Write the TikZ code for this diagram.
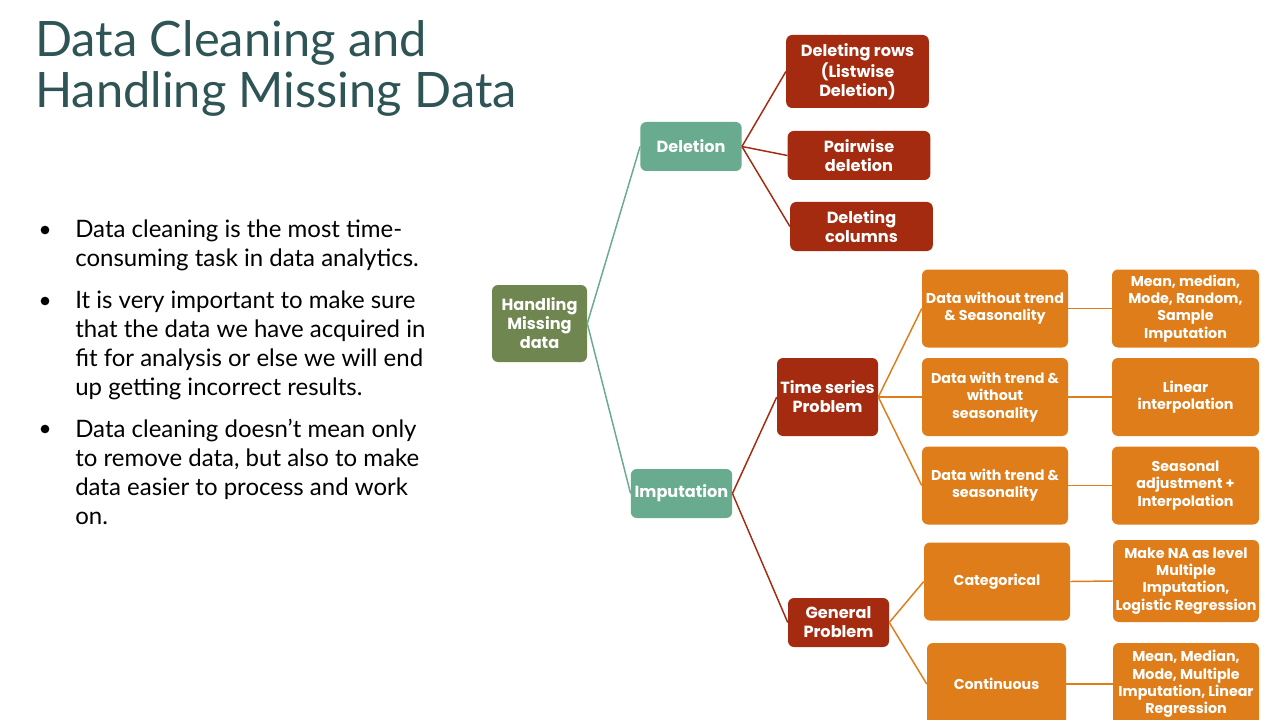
\documentclass[tikz,border=0pt]{standalone}
\usepackage{fontspec}
\setmainfont{Lato}
\newfontfamily\boxfont{Poppins}
\usepackage{tikz}
\usetikzlibrary{positioning}

\definecolor{titleteal}{RGB}{47,84,86}
\definecolor{rootgreen}{RGB}{112,134,80}
\definecolor{midteal}{RGB}{104,171,142}
\definecolor{brick}{RGB}{165,43,16}
\definecolor{amber}{RGB}{223,125,26}

\begin{document}
\begin{tikzpicture}[
    x=0.75pt, y=-0.75pt,
    box/.style={rectangle, rounded corners=4.5pt, text=white, align=center, inner sep=1pt,
      font=\boxfont\bfseries\fontsize{12.1}{14.25}\selectfont},
    rootbox/.style={box, fill=rootgreen, minimum width=71.25pt, minimum height=57.75pt},
    midbox/.style={box, fill=midteal, minimum width=76pt, minimum height=36.75pt},
    brickbox/.style={box, fill=brick, minimum width=107pt, minimum height=36.75pt},
    leafbox/.style={box, fill=amber, minimum width=109.5pt, minimum height=58.5pt,
      font=\boxfont\bfseries\fontsize{10.7}{13}\selectfont},
    tealline/.style={draw=midteal, line width=1.1pt},
    brickline/.style={draw=brick, line width=1.1pt},
    amberline/.style={draw=amber, line width=1.1pt},
    titletext/.style={anchor=base west, inner sep=0, text=titleteal, font=\fontsize{36.6}{38}\selectfont},
    bullettext/.style={anchor=north west, inner sep=0, align=left, font=\fontsize{18}{21.75}\selectfont},
    dotmark/.style={circle, fill=black, minimum size=6.5pt, inner sep=0}
  ]
    \useasboundingbox (0,0) rectangle (1280,720);
    \fill[white] (0,0) rectangle (1280,720);
    \clip (0,0) rectangle (1280,720);
    % title and bullets
    \node[titletext] (title1) at (35,57) {Data Cleaning and};
    \node[titletext] (title2) at (35,108) {Handling Missing Data};
    \node[dotmark] (dot1) at (45,230) {};
    \node[dotmark] (dot2) at (45,301) {};
    \node[dotmark] (dot3) at (45,429) {};
    \node[bullettext] (txt1) at (75,219.7) {Data cleaning is the most time-\\consuming task in data analytics.};
    \node[bullettext] (txt2) at (75,290.7) {It is very important to make sure\\that the data we have acquired in\\fit for analysis or else we will end\\up getting incorrect results.};
    \node[bullettext] (txt3) at (75,418.7) {Data cleaning doesn’t mean only\\to remove data, but also to make\\data easier to process and work\\on.};
    % tree
    \node[rootbox] (hmd) at (539.5,323.5) {Handling\\Missing\\data};
    \node[midbox] (del) at (691,146.5) {Deletion};
    \node[midbox] (imp) at (681.5,493.5) {Imputation};
    \node[brickbox, minimum height=54.75pt] (drow) at (857.5,71.5) {Deleting rows\\(Listwise\\Deletion)};
    \node[brickbox] (dpair) at (859,155.5) {Pairwise\\deletion};
    \node[brickbox] (dcol) at (861.5,226.5) {Deleting\\columns};
    \node[brickbox, minimum width=75.75pt, minimum height=58.5pt] (tsp) at (827.5,397) {Time series\\Problem};
    \node[brickbox, minimum width=75.75pt] (gp) at (838.5,622.5) {General\\Problem};
    \node[leafbox] (notrend) at (995,308.5) {Data without trend\\\& Seasonality};
    \node[leafbox] (trendonly) at (995,397) {Data with trend \&\\without\\seasonality};
    \node[leafbox] (trendseas) at (995,485.5) {Data with trend \&\\seasonality};
    \node[leafbox] (catg) at (997,581.5) {Categorical};
    \node[leafbox, minimum width=104.25pt, minimum height=61.5pt] (cont) at (996.5,684) {Continuous};
    \node[leafbox, minimum width=110.25pt] (meanimp) at (1185.5,308.5) {Mean, median,\\Mode, Random,\\Sample\\Imputation};
    \node[leafbox, minimum width=110.25pt] (linint) at (1185.5,397) {Linear\\interpolation};
    \node[leafbox, minimum width=110.25pt] (seasadj) at (1185.5,485.5) {Seasonal\\adjustment +\\Interpolation};
    \node[leafbox, minimum width=109.5pt, minimum height=61.5pt] (makena) at (1186,581) {Make NA as level\\Multiple\\Imputation,\\Logistic Regression};
    \node[leafbox, minimum width=109.5pt, minimum height=61.5pt] (meanreg) at (1186,684) {Mean, Median,\\Mode, Multiple\\Imputation, Linear\\Regression};
    % connectors
    \draw[tealline] (hmd.east) -- (del.west);
    \draw[tealline] (hmd.east) -- (imp.west);
    \draw[brickline] (del.east) -- (drow.west);
    \draw[brickline] (del.east) -- (dpair.west);
    \draw[brickline] (del.east) -- (dcol.west);
    \draw[brickline] (imp.east) -- (tsp.west);
    \draw[brickline] (imp.east) -- (gp.west);
    \draw[amberline] (tsp.east) -- (notrend.west);
    \draw[amberline] (tsp.east) -- (trendonly.west);
    \draw[amberline] (tsp.east) -- (trendseas.west);
    \draw[amberline] (gp.east) -- (catg.west);
    \draw[amberline] (gp.east) -- (cont.west);
    \draw[amberline] (notrend.east) -- (meanimp.west);
    \draw[amberline] (trendonly.east) -- (linint.west);
    \draw[amberline] (trendseas.east) -- (seasadj.west);
    \draw[amberline] (catg.east) -- (makena.west);
    \draw[amberline] (cont.east) -- (meanreg.west);
\end{tikzpicture}
\end{document}
